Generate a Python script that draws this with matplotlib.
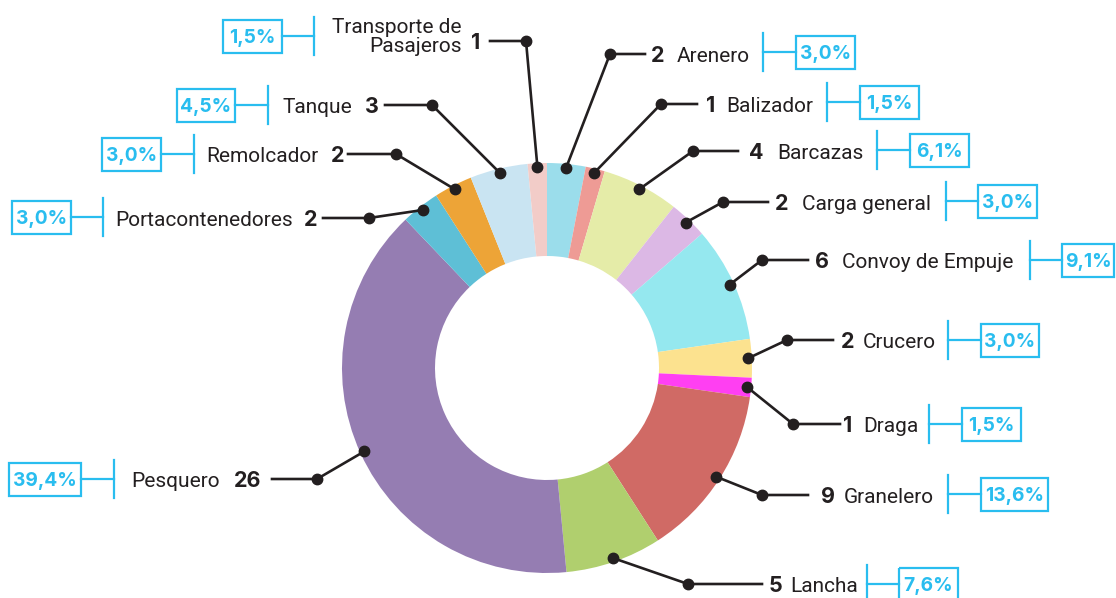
import numpy as np
import matplotlib.pyplot as plt
from matplotlib.patches import Rectangle

# datos
categorias = ['Arenero', 'Balizador', 'Barcazas', 'Carga general', 'Convoy de Empuje',
              'Crucero', 'Draga', 'Granelero', 'Lancha', 'Pesquero',
              'Portacontenedores', 'Remolcador', 'Tanque', 'Transporte de\nPasajeros']
valores = [2, 1, 4, 2, 6, 2, 1, 9, 5, 26, 2, 2, 3, 1]
colores = ['#9BDDEB', '#EE9B95', '#E5ECA8', '#DCB8E5', '#95E8EF',
           '#FCE28F', '#FF3FF2', '#D06A65', '#B0CF6E', '#957DB2',
           '#5EBFD6', '#EDA437', '#C9E4F2', '#F2CCC8']

# layout de etiquetas (en pixeles de la imagen)
lado = ['d'] * 9 + ['i'] * 5
codo = [(610, 54), (661, 104), (693, 151), (723, 202), (762, 260), (787, 340), (793, 424),
        (762, 495), (688, 584), (317, 479), (369, 218), (396, 154), (432, 105), (526, 41)]
fin_linea = [645, 697, 738, 768, 808, 833, 840, 808, 762, 272, 323, 348, 385, 490]
x_num = [651, 706, 749, 775, 815, 841, 843, 821, 769, 261, 317, 344, 379, 480]
x_nom = [677, 726, 777, 802, 842, 863, 863, 844, 790, 220, 293, 318, 352, 462]
x_tick = [763, 827, 877, 946, 1030, 948, 929, 948, 867, 114, 103, 194, 268, 314]
caja = [(796, 855), (860, 919), (910, 969), (978, 1037), (1062, 1114), (981, 1039), (962, 1021),
        (981, 1048), (899, 958), (9, 81), (12, 71), (102, 161), (177, 235), (223, 282)]
y_caja = [52, 102, 150, 201, 260, 340, 424, 494, 584, 479, 217, 154, 105, 36]

oscuro = '#231F20'
celeste = '#29BDEF'

fig = plt.figure(figsize=(11.16, 5.98), dpi=100)
ax = fig.add_axes([0, 0, 1, 1])
wedges, _ = ax.pie(valores, colors=colores, startangle=-90, counterclock=True,
                   radius=205, center=(547, 368),
                   wedgeprops=dict(width=93, linewidth=0))
ax.set_xlim(0, 1116)
ax.set_ylim(598, 0)
ax.set_aspect('equal')
ax.axis('off')

total = sum(valores)
for i, w in enumerate(wedges):
    th = np.deg2rad((w.theta1 + w.theta2) / 2)
    axx = w.center[0] + 201 * np.cos(th)
    axy = w.center[1] + 201 * np.sin(th)
    ex, ey = codo[i]
    ax.plot([axx, ex, fin_linea[i]], [axy, ey, ey], color=oscuro, lw=1.9, zorder=3)
    ax.plot([axx, ex], [axy, ey], 'o', color=oscuro, ms=7.5, zorder=4)

    pct = f"{valores[i] / total * 100:.1f}".replace('.', ',') + '%'
    ha = 'left' if lado[i] == 'd' else 'right'
    ax.text(x_num[i], ey + 8, str(valores[i]), ha=ha, va='baseline', fontsize=15.5,
            fontweight='bold', family='Inter', color=oscuro)
    if '\n' in categorias[i]:
        ax.text(x_nom[i], y_caja[i] + 1, categorias[i], ha=ha, va='center', fontsize=15,
                family='Roboto', color=oscuro, linespacing=1.05, multialignment='right')
    else:
        ax.text(x_nom[i], ey + 8, categorias[i], ha=ha, va='baseline', fontsize=15,
                family='Roboto', color=oscuro)

    yc = y_caja[i]
    x0, x1 = caja[i]
    ax.plot([x_tick[i], x_tick[i]], [yc - 19, yc + 19], color=celeste, lw=1.6)
    if lado[i] == 'd':
        ax.plot([x_tick[i], x0], [yc, yc], color=celeste, lw=1.6)
    else:
        ax.plot([x1, x_tick[i]], [yc, yc], color=celeste, lw=1.6)
    ax.add_patch(Rectangle((x0, yc - 16.5), x1 - x0, 33, fill=False,
                           edgecolor=celeste, lw=1.6))
    ax.text((x0 + x1) / 2, yc + 7, pct, ha='center', va='baseline', fontsize=13.8,
            fontweight='bold', family='Inter', color=celeste)

fig.savefig('out.png', dpi=100)
